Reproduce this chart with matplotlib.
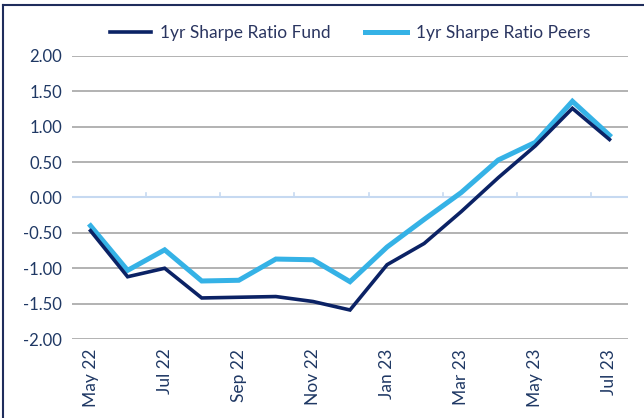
import numpy as np
import matplotlib.pyplot as plt
from matplotlib.lines import Line2D

plt.rcParams['font.family'] = ['Lato', 'DejaVu Sans']

months = ['May 22', 'Jun 22', 'Jul 22', 'Aug 22', 'Sep 22', 'Oct 22', 'Nov 22', 'Dec 22',
          'Jan 23', 'Feb 23', 'Mar 23', 'Apr 23', 'May 23', 'Jun 23', 'Jul 23']
fund = [-0.47, -1.12, -1.00, -1.42, -1.41, -1.40, -1.47, -1.59,
        -0.95, -0.65, -0.20, 0.28, 0.73, 1.26, 0.82]
peers = [-0.40, -1.03, -0.74, -1.18, -1.17, -0.87, -0.88, -1.19,
         -0.70, -0.31, 0.07, 0.53, 0.78, 1.36, 0.88]
yticks = [-2.0, -1.5, -1.0, -0.5, 0.0, 0.5, 1.0, 1.5, 2.0]

navy = '#0b2265'
sky = '#35b2e6'
txt = '#1f3864'

fig = plt.figure(figsize=(6.44, 4.18), dpi=100)
ax = fig.add_axes([72 / 644, 1 - 339 / 418, 556 / 644, 283 / 418])

x = np.arange(len(months))
ax.plot(x, fund, color=navy, lw=2.6, label='1yr Sharpe Ratio Fund', solid_joinstyle='miter', zorder=4)
ax.plot(x, peers, color=sky, lw=3.6, label='1yr Sharpe Ratio Peers', solid_joinstyle='miter', zorder=3)

ax.set_xlim(-0.5, len(months) - 0.5)
ax.set_ylim(-2.0, 2.0)
ax.set_yticks(yticks)
ax.set_yticklabels([f'{v:.2f}' for v in yticks], color=txt, fontsize=12)
ax.yaxis.grid(True, color='#a6a6a6', lw=1.2)
ax.set_axisbelow(True)
ax.tick_params(axis='y', length=0, pad=7)

ax.set_xticks(x[::2])
ax.set_xticklabels(months[::2], rotation=90, color=txt, fontsize=12.5)
ax.tick_params(axis='x', length=0, pad=7)

for s in ax.spines.values():
    s.set_visible(False)

# zero line with boundary tick marks
ax.axhline(0, color='#c6d9f1', lw=1.5, zorder=2)
for b in np.arange(1.5, len(months), 2):
    ax.plot([b, b], [0, 0.07], color='#c6d9f1', lw=1.2, zorder=2)

ax.legend(loc='upper center', bbox_to_anchor=(0.5, 1.165), ncol=2, frameon=False,
          fontsize=12.5, handlelength=2.4, handletextpad=0.5, columnspacing=2.0,
          labelcolor='#2a3560')

# outer frame (left and top edges)
fig.add_artist(Line2D([3 / 644, 3 / 644], [0, 1 - 5 / 418], color='#1f2d5c', lw=1.5))
fig.add_artist(Line2D([3 / 644, 1], [1 - 5 / 418, 1 - 5 / 418], color='#1f2d5c', lw=1.5))

fig.savefig('out.png', dpi=100)
